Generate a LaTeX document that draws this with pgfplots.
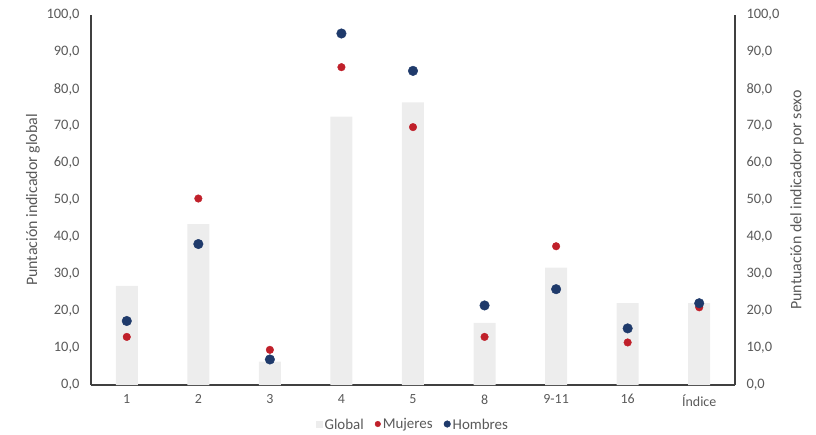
\documentclass[border=0pt]{standalone}
\usepackage{pgfplots}
\pgfplotsset{compat=1.18}
\usepackage{fontspec}
\setmainfont{Carlito}
\definecolor{txt}{HTML}{595959}
\definecolor{bargrey}{HTML}{EDEDED}
\definecolor{mred}{HTML}{C0202A}
\definecolor{hblue}{HTML}{1F3A6B}
\definecolor{axl}{HTML}{404040}
\begin{document}
\begin{tikzpicture}
\pgfplotsset{
  common/.style={
    scale only axis, width=644bp, height=370bp,
    xmin=-0.5, xmax=8.5, ymin=0, ymax=100,
    ytick={0,10,...,100},
    major tick length=0pt,
    /pgf/number format/.cd, fixed, fixed zerofill, precision=1, use comma, assume math mode=true,
    /pgfplots/.cd,
    yticklabel style={font=\fontsize{14.5}{17}\selectfont, text=txt},
    xticklabel style={font=\fontsize{14}{17}\selectfont, text=txt},
    label style={font=\fontsize{16}{19}\selectfont, text=txt},
    axis line style={axl, line width=1.4bp},
  }
}
\begin{axis}[common,
  axis y line*=left, axis x line*=bottom,
  xtick={0,...,8},
  xticklabels={1,2,3,4,5,8,9-11,16,Índice},
  ylabel={Puntación indicador global},
  yticklabel style={xshift=-8bp},
  xticklabel style={yshift=-6bp},
  ylabel style={yshift=0bp},
]
\addplot[ybar, bar width=22bp, fill=bargrey, draw=none] coordinates {
 (0,26.8) (1,43.5) (2,6.3) (3,72.5) (4,76.4) (5,16.8) (6,31.7) (7,22.1) (8,22.1)};
\end{axis}
\begin{axis}[common,
  axis y line*=right, axis x line=none,
  ylabel={Puntuación del indicador por sexo},
  yticklabel style={xshift=8bp},
  ylabel style={yshift=-4bp},
  legend style={at={(0.5,-0.085)}, anchor=north, draw=none, font=\fontsize{15}{17}\selectfont, text=txt, legend columns=3,
    /tikz/every even column/.append style={column sep=9bp}, inner sep=0pt},
  legend cell align=left,
  legend image post style={},
]
\addlegendimage{legend image code/.code={\fill[bargrey] (0.05cm,-0.09cm) rectangle (0.27cm,0.13cm);}}
\addlegendentry{Global}
\addplot[only marks, mark=*, mark size=3.8bp, mark options={fill=mred, draw=mred},
  legend image code/.code={\fill[mred] (0.17cm,0.02cm) circle (2.8bp);}] coordinates {
 (0,13.0) (1,50.4) (2,9.5) (3,85.9) (4,69.7) (5,13.0) (6,37.5) (7,11.5) (8,21.0)};
\addlegendentry{Mujeres}
\addplot[only marks, mark=*, mark size=4.8bp, mark options={fill=hblue, draw=hblue},
  legend image code/.code={\fill[hblue] (0.17cm,0.02cm) circle (3.3bp);}] coordinates {
 (0,17.3) (1,38.1) (2,6.9) (3,95.0) (4,84.9) (5,21.5) (6,25.9) (7,15.3) (8,22.1)};
\addlegendentry{Hombres}
\end{axis}
\path (-91bp,-50bp) rectangle (725bp,385bp);
\end{tikzpicture}
\end{document}
